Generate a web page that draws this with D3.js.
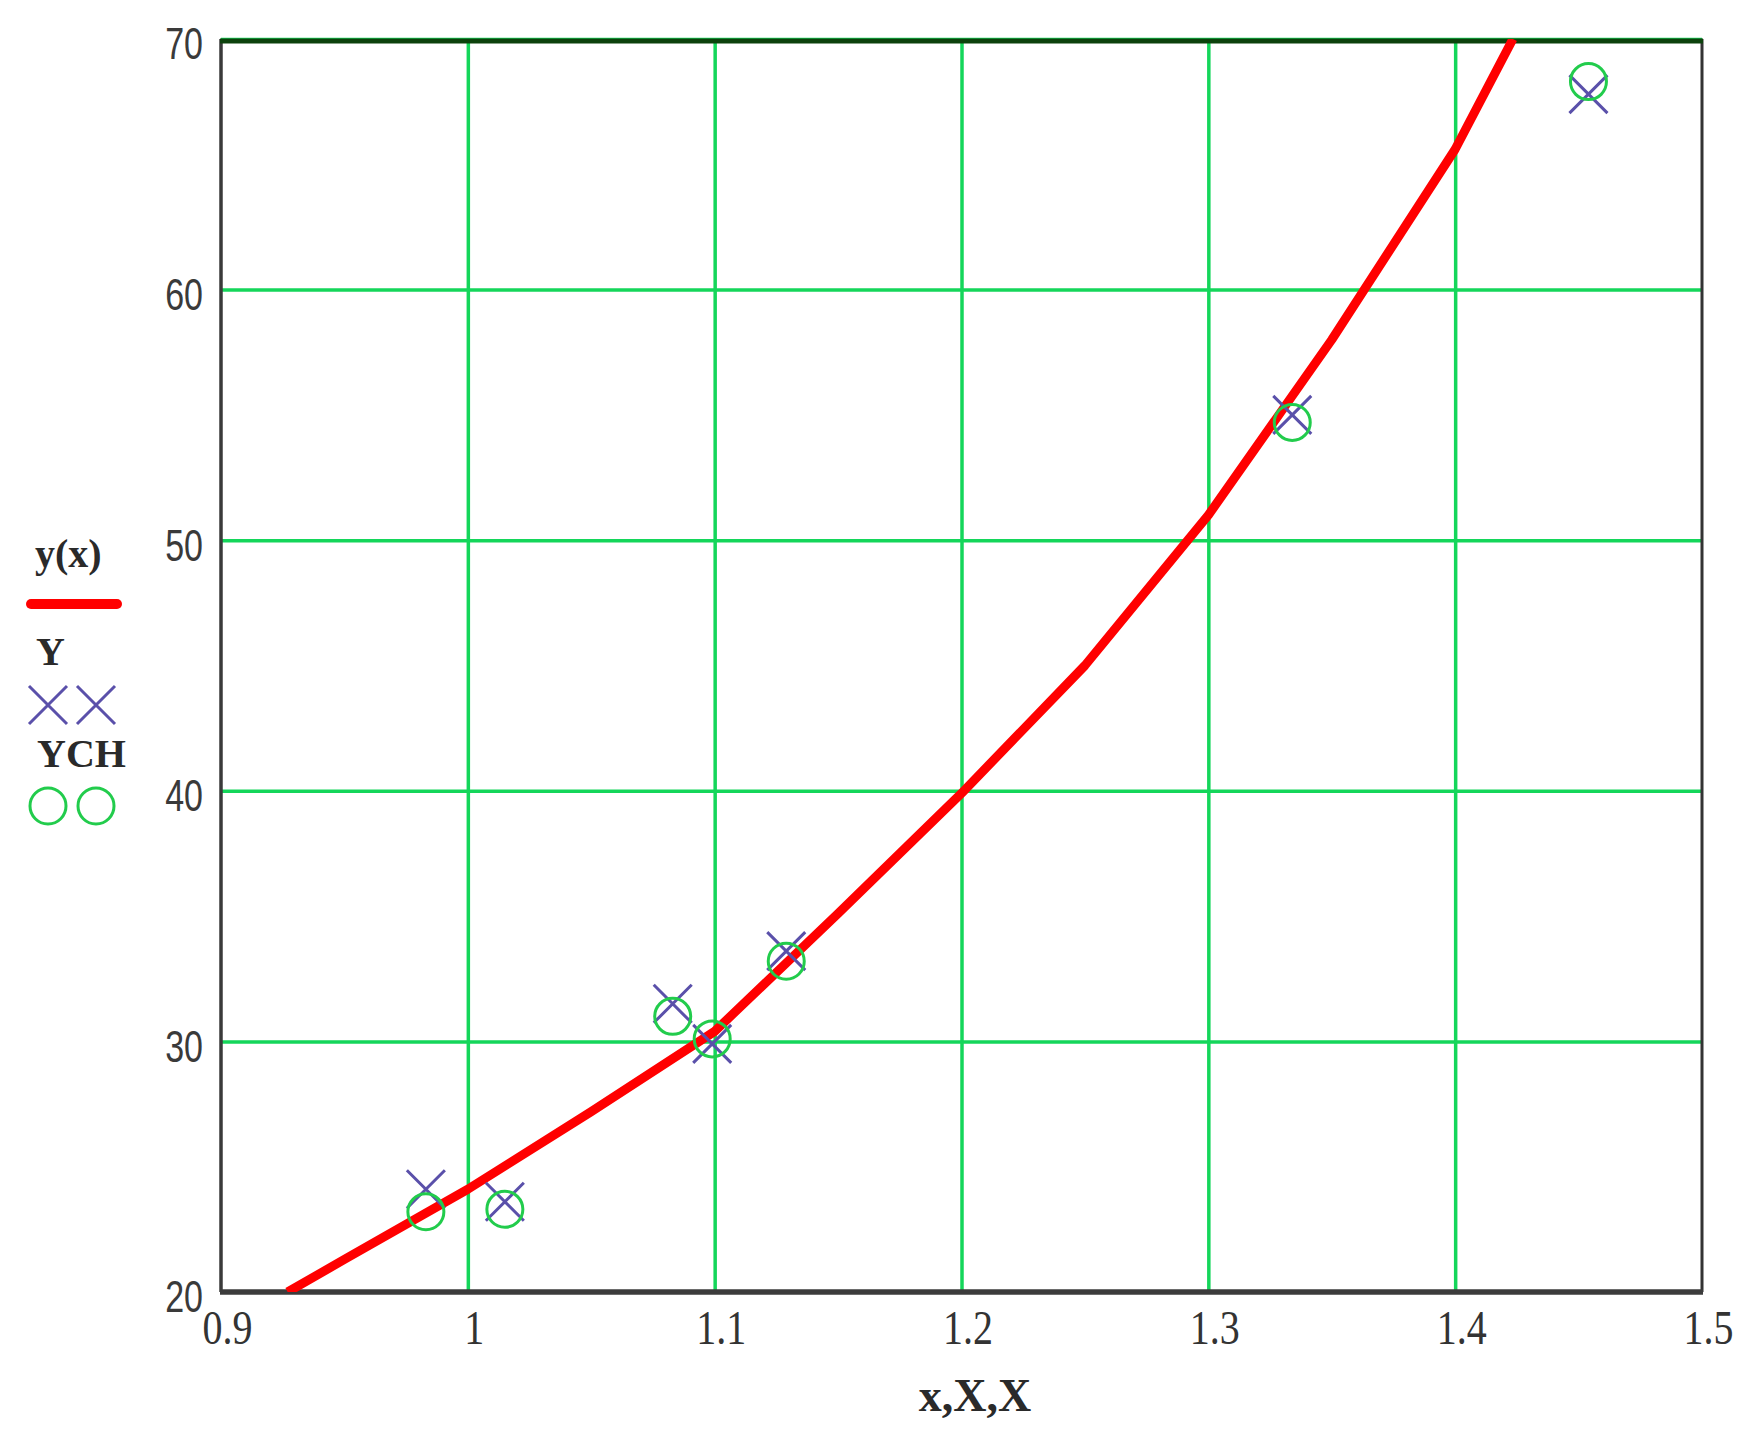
<!DOCTYPE html>
<html>
<head>
<meta charset="utf-8">
<script src="https://cdn.jsdelivr.net/npm/d3@7"></script>
<style>
  body { margin: 0; background: #fff; }
</style>
</head>
<body>
<div id="chart"></div>
<script>

// trace y(x)
var curveX = [0.927, 0.95, 1.0, 1.05, 1.1, 1.15, 1.2, 1.25, 1.3, 1.35, 1.4, 1.4234];
var curveY = [20.0, 21.3, 24.1, 27.2, 30.4, 35.1, 39.9, 45.0, 51.0, 58.0, 65.6, 70.0];

// measured points Y and YCH, both at X
var X   = [0.983, 1.015, 1.083, 1.099, 1.129, 1.334, 1.454];
var Y   = [24.1, 23.6, 31.5, 29.9, 33.6, 55.0, 67.8];
var YCH = [23.2, 23.3, 31.0, 30.1, 33.2, 54.7, 68.3];

var xTicks = [0.9, 1, 1.1, 1.2, 1.3, 1.4, 1.5];
var yTicks = [20, 30, 40, 50, 60, 70];

var legendNames = ["y(x)", "Y", "YCH"];

var W = 1743, H = 1445;
var plot = {left: 221, right: 1702, top: 39, bottom: 1292};

var svg = d3.select("#chart")
  .append("svg")
  .attr("width", W)
  .attr("height", H);

svg.append("rect")
  .attr("width", W)
  .attr("height", H)
  .attr("fill", "#fff");

var x = d3.scaleLinear()
  .domain([0.9, 1.5])
  .range([plot.left, plot.right]);

var y = d3.scaleLinear()
  .domain([20, 70])
  .range([plot.bottom, plot.top]);

var gridColor = "#14d65a";

// vertical grid
svg.append("g")
  .attr("transform", "translate(0," + plot.bottom + ")")
  .call(d3.axisBottom(x)
    .tickValues(xTicks.slice(1, -1))
    .tickSize(-(plot.bottom - plot.top))
    .tickFormat(""))
  .call(function(g) { g.select(".domain").remove(); })
  .selectAll("line")
  .attr("stroke", gridColor)
  .attr("stroke-width", 3.5);

// horizontal grid (70 too, the top frame covers most of it)
svg.append("g")
  .attr("transform", "translate(" + plot.left + ",0)")
  .call(d3.axisLeft(y)
    .tickValues(yTicks.slice(1))
    .tickSize(-(plot.right - plot.left))
    .tickFormat(""))
  .call(function(g) { g.select(".domain").remove(); })
  .selectAll("line")
  .attr("stroke", gridColor)
  .attr("stroke-width", 3.5);

// frame
svg.append("line")
  .attr("x1", plot.left).attr("x2", plot.left)
  .attr("y1", plot.top).attr("y2", plot.bottom)
  .attr("stroke", "#3a3a3a").attr("stroke-width", 3.5);
svg.append("line")
  .attr("x1", plot.right).attr("x2", plot.right)
  .attr("y1", plot.top).attr("y2", plot.bottom)
  .attr("stroke", "#333").attr("stroke-width", 3);
svg.append("line")
  .attr("x1", plot.left - 1).attr("x2", plot.right + 1)
  .attr("y1", plot.top + 2).attr("y2", plot.top + 2)
  .attr("stroke", "#0c420c").attr("stroke-width", 5);
svg.append("line")
  .attr("x1", plot.left - 1).attr("x2", plot.right + 1)
  .attr("y1", plot.bottom).attr("y2", plot.bottom)
  .attr("stroke", "#3c3c3c").attr("stroke-width", 5.5);

// tick labels
svg.append("g")
  .attr("transform", "translate(" + (plot.left - 18) + ",0)")
  .call(d3.axisLeft(y).tickValues(yTicks).tickSize(0).tickPadding(0)
    .tickFormat(function(d) { return String(d); }))
  .call(function(g) { g.select(".domain").remove(); })
  .selectAll("text")
  .attr("x", 0)
  .attr("y", 0)
  .attr("dy", "0.36em")
  .attr("transform", "translate(0,4) scale(1,1.3)")
  .style("font-family", "'Liberation Sans', Arial, sans-serif")
  .style("font-size", "34px")
  .style("fill", "#3a3a3a")
  .style("text-anchor", "end");

svg.append("g")
  .attr("transform", "translate(0," + plot.bottom + ")")
  .call(d3.axisBottom(x).tickValues(xTicks).tickSize(0).tickPadding(0)
    .tickFormat(function(d) { return String(d); }))
  .call(function(g) { g.select(".domain").remove(); })
  .selectAll("text")
  .attr("y", 0)
  .attr("dy", 0)
  .attr("transform", "translate(6,52) scale(1,1.2)")
  .style("font-family", "'Liberation Serif', 'Times New Roman', serif")
  .style("font-size", "40px")
  .style("fill", "#333")
  .style("text-anchor", "middle");

svg.append("text")
  .attr("x", 975)
  .attr("y", 1411)
  .style("text-anchor", "middle")
  .style("font-family", "'Liberation Serif', 'Times New Roman', serif")
  .style("font-size", "46px")
  .style("font-weight", "bold")
  .style("fill", "#2a2a2a")
  .text("x,X,X");

// clip the trace to the plot box
svg.append("clipPath")
  .attr("id", "box")
  .append("rect")
  .attr("x", plot.left)
  .attr("y", plot.top)
  .attr("width", plot.right - plot.left)
  .attr("height", plot.bottom - plot.top);

var line = d3.line()
  .x(function(d, i) { return x(curveX[i]); })
  .y(function(d) { return y(d); });

svg.append("path")
  .datum(curveY)
  .attr("clip-path", "url(#box)")
  .attr("d", line)
  .attr("fill", "none")
  .attr("stroke", "#ff0000")
  .attr("stroke-width", 9)
  .attr("stroke-linejoin", "round");

var crossColor = "#5a50aa";
var circleColor = "#22cc4c";
var mk = 19;

function cross(g, cx, cy) {
  g.append("path")
    .attr("d", "M" + (cx - mk) + "," + (cy - mk) + "L" + (cx + mk) + "," + (cy + mk) +
               "M" + (cx - mk) + "," + (cy + mk) + "L" + (cx + mk) + "," + (cy - mk))
    .attr("fill", "none")
    .attr("stroke", crossColor)
    .attr("stroke-width", 3);
}

var crosses = svg.append("g");
X.forEach(function(d, i) { cross(crosses, x(d), y(Y[i])); });

svg.append("g")
  .selectAll("circle")
  .data(YCH)
  .enter()
  .append("circle")
  .attr("cx", function(d, i) { return x(X[i]); })
  .attr("cy", function(d) { return y(d); })
  .attr("r", 18)
  .attr("fill", "none")
  .attr("stroke", circleColor)
  .attr("stroke-width", 3);

// legend on the left
var legend = svg.append("g")
  .style("font-family", "'Liberation Serif', 'Times New Roman', serif")
  .style("font-size", "40px")
  .style("font-weight", "bold")
  .style("fill", "#2a2a2a");

legend.append("text").attr("x", 35).attr("y", 567).text(legendNames[0]);
legend.append("line")
  .attr("x1", 31).attr("x2", 117)
  .attr("y1", 604).attr("y2", 604)
  .attr("stroke", "#ff0000")
  .attr("stroke-width", 10)
  .attr("stroke-linecap", "round");

legend.append("text").attr("x", 36).attr("y", 665).text(legendNames[1]);
cross(legend, 48, 705);
cross(legend, 96, 705);

legend.append("text").attr("x", 37).attr("y", 767).text(legendNames[2]);
[48, 96].forEach(function(cx) {
  legend.append("circle")
    .attr("cx", cx).attr("cy", 806).attr("r", 18)
    .attr("fill", "none")
    .attr("stroke", circleColor)
    .attr("stroke-width", 3);
});

</script>
</body>
</html>
